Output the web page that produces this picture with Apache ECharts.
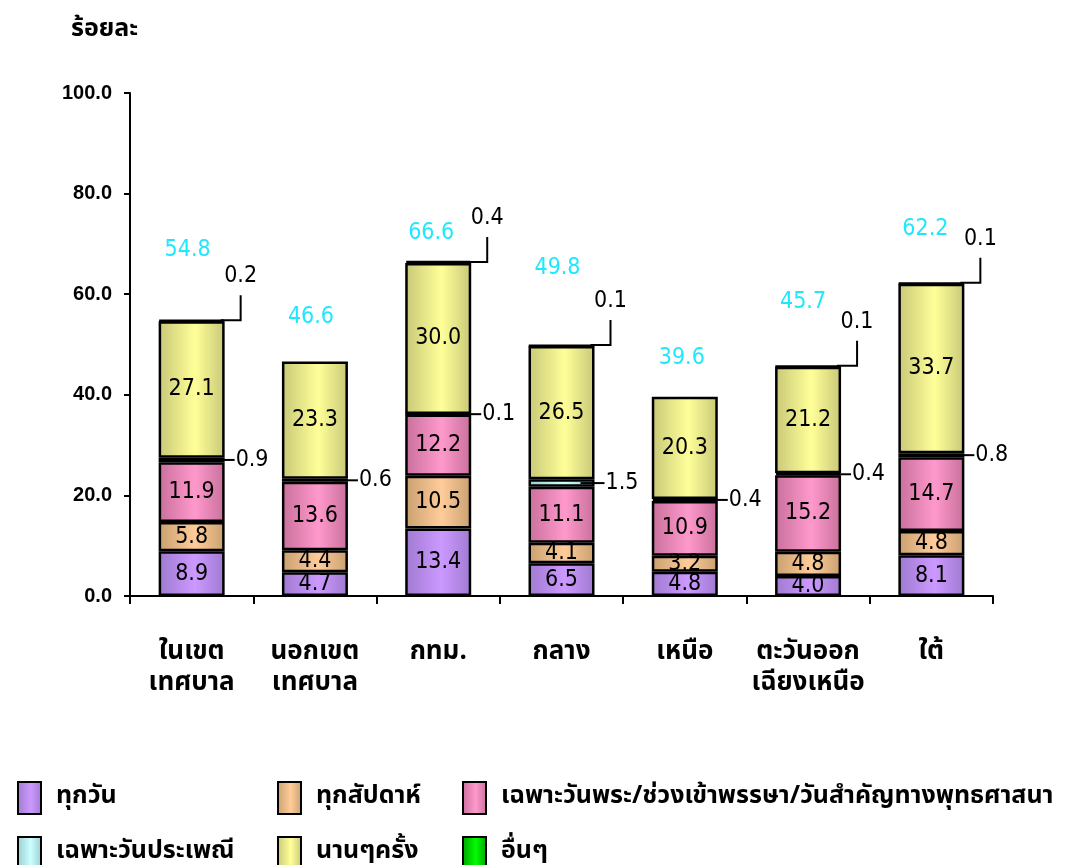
<!DOCTYPE html>
<html><head><meta charset="utf-8">
<script src="https://cdn.jsdelivr.net/npm/echarts@6/dist/echarts.min.js"></script>
<style>html,body{margin:0;padding:0;background:#fff}#c{width:1071px;height:865px}</style>
</head><body><div id="c"></div>
<script>
// ---- data ----
const categories = ['ในเขต\nเทศบาล','นอกเขต\nเทศบาล','กทม.','กลาง','เหนือ','ตะวันออก\nเฉียงเหนือ','ใต้'];
const seriesNames = ['ทุกวัน','ทุกสัปดาห์','เฉพาะวันพระ/ช่วงเข้าพรรษา/วันสำคัญทางพุทธศาสนา','เฉพาะวันประเพณี','นานๆครั้ง','อื่นๆ'];
const daily      = [8.9, 4.7, 13.4, 6.5, 4.8, 4.0, 8.1];
const weekly     = [5.8, 4.4, 10.5, 4.1, 3.2, 4.8, 4.8];
const holyDays   = [11.9, 13.6, 12.2, 11.1, 10.9, 15.2, 14.7];
const festival   = [0.9, 0.6, 0.1, 1.5, 0.4, 0.4, 0.8];
const occasional = [27.1, 23.3, 30.0, 26.5, 20.3, 21.2, 33.7];
const others     = [0.2, null, 0.4, 0.1, null, 0.1, 0.1];
const totals     = [54.8, 46.6, 66.6, 49.8, 39.6, 45.7, 62.2];
const yTicks     = [0, 20, 40, 60, 80, 100];

// ---- layout / style (not data) ----
const totalLabelLift  = [70, 45, 28, 77, 39, 64, 54];
const totalLabelShift = [-4, -4, -7, -4, -3, -5, -6];
const BAR_W = 66;
const THAI = "'Noto Sans Thai','Noto Sans Thai UI','Loma','Garuda','Tahoma','DejaVu Sans',sans-serif";
const NUM = "'DejaVu Sans Condensed','DejaVu Sans',sans-serif";
const AXIS_NUM = "'Liberation Sans','Arial',sans-serif";
const NUM_SIZE = 23;
const palette = [
  ['#9f7ad0', '#cc99ff'],
  ['#c9a070', '#ffcc99'],
  ['#c8709c', '#ff99cc'],
  ['#99cccc', '#ccffff'],
  ['#c8c878', '#ffff99'],
  ['#00a000', '#00ff00']
];
function grad(p) {
  return {type:'linear', x:0, y:0, x2:1, y2:0,
    colorStops:[{offset:0,color:p[0]},{offset:0.55,color:p[1]},{offset:1,color:p[0]}]};
}
const values = [daily, weekly, holyDays, festival, occasional, others];
const innerLabel = [true, true, true, false, true, false];

const chart = echarts.init(document.getElementById('c'));

const barSeries = values.map((arr, k) => ({
  name: seriesNames[k],
  type: 'bar',
  stack: 'total',
  barWidth: BAR_W,
  data: arr,
  itemStyle: {color: grad(palette[k]), borderColor: '#000', borderWidth: 2.5},
  label: {
    show: innerLabel[k], position: 'inside', color: '#000',
    fontFamily: NUM, fontSize: NUM_SIZE,
    formatter: p => p.value == null ? '' : Number(p.value).toFixed(1)
  },
  emphasis: {disabled: true}
}));

function sumBelow(k, i) {
  let s = 0;
  for (let j = 0; j < k; j++) s += (values[j][i] || 0);
  return s;
}

// leader labels for the festival series (horizontal line)
const festivalLeader = {
  type: 'custom',
  silent: true,
  data: festival.map((v, i) => [i, v]),
  encode: {x: 0, y: 1},
  z: 10,
  renderItem: function (params, api) {
    const i = api.value(0);
    const v = festival[i];
    const mid = api.coord([i, sumBelow(3, i) + v / 2]);
    const right = mid[0] + BAR_W / 2;
    const x1 = right - 14, x2 = right + 10;
    return {type: 'group', children: [
      {type: 'line', shape: {x1: x1, y1: mid[1], x2: x2, y2: mid[1]}, style: {stroke: '#000', lineWidth: 2}},
      {type: 'text', style: {text: v.toFixed(1), x: x2 + 1, y: mid[1], align: 'left', verticalAlign: 'middle',
        font: NUM_SIZE + 'px ' + NUM, fill: '#000'}}
    ]};
  }
};

// leader labels for "others" series (elbow line up)
const othersLeader = {
  type: 'custom',
  silent: true,
  data: others.map((v, i) => v == null ? null : [i, v]).filter(d => d),
  encode: {x: 0, y: 1},
  z: 10,
  renderItem: function (params, api) {
    const i = api.value(0);
    const v = others[i];
    const p = api.coord([i, sumBelow(5, i)]);
    const right = p[0] + BAR_W / 2;
    const y = p[1] - 1;
    const xe = right + 16, ytop = y - 25;
    return {type: 'group', children: [
      {type: 'polyline', shape: {points: [[right - 4, y], [xe, y], [xe, ytop]]}, style: {stroke: '#000', lineWidth: 2, fill: null}},
      {type: 'text', style: {text: v.toFixed(1), x: xe, y: ytop - 19, align: 'center', verticalAlign: 'middle',
        font: NUM_SIZE + 'px ' + NUM, fill: '#000'}}
    ]};
  }
};

// total labels
const totalLabels = {
  type: 'custom',
  silent: true,
  data: totals.map((v, i) => [i, v]),
  encode: {x: 0, y: 1},
  z: 10,
  renderItem: function (params, api) {
    const i = api.value(0);
    const p = api.coord([i, totals[i]]);
    return {type: 'text', style: {text: totals[i].toFixed(1), x: p[0] + totalLabelShift[i], y: p[1] - totalLabelLift[i],
      align: 'center', verticalAlign: 'middle', font: NUM_SIZE + 'px ' + NUM, fill: '#1ee8ff'}};
  }
};

const legendPos = [[12, 776], [272, 776], [457, 776], [12, 831], [272, 831], [457, 831]];
const legends = seriesNames.map((n, k) => ({
  data: [n],
  left: legendPos[k][0], top: legendPos[k][1],
  orient: 'horizontal',
  itemWidth: 23, itemHeight: 32,
  icon: 'rect',
  selectedMode: false,
  textStyle: {fontFamily: THAI, fontWeight: 'bold', fontSize: 25, color: '#000', padding: [0, 0, 0, 10]}
}));

chart.setOption({
  animation: false,
  backgroundColor: '#fff',
  graphic: [{type: 'text', left: 71, top: 18, style: {text: 'ร้อยละ', font: 'bold 25px ' + THAI, fill: '#000'}}],
  legend: legends,
  grid: {left: 130, right: 78, top: 93, bottom: 269, containLabel: false},
  xAxis: {
    type: 'category', data: categories,
    axisLine: {lineStyle: {color: '#000', width: 2}},
    axisTick: {show: true, length: 8, lineStyle: {color: '#000', width: 2}},
    axisLabel: {fontFamily: THAI, fontWeight: 'bold', fontSize: 26, color: '#000', lineHeight: 31, margin: 42, interval: 0}
  },
  yAxis: {
    type: 'value', min: yTicks[0], max: yTicks[yTicks.length - 1], interval: yTicks[1] - yTicks[0],
    axisLine: {show: true, lineStyle: {color: '#000', width: 2}},
    axisTick: {show: true, length: 6, lineStyle: {color: '#000', width: 2}},
    splitLine: {show: false},
    axisLabel: {fontFamily: AXIS_NUM, fontWeight: 'bold', fontSize: 20, color: '#000', margin: 18,
      formatter: v => v.toFixed(1)}
  },
  series: barSeries.concat([festivalLeader, othersLeader, totalLabels])
});
</script>
</body></html>
